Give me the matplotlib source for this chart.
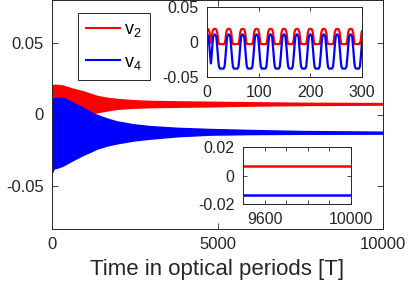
import numpy as np
import matplotlib.pyplot as plt

plt.rcParams['font.family'] = ['Liberation Sans', 'DejaVu Sans']
plt.rcParams['axes.unicode_minus'] = False
plt.rcParams['mathtext.default'] = 'regular'

# main plot: envelope of the fast oscillation
t_env = [0, 50, 150, 330, 600, 940, 1160, 1360, 1660, 1960, 2450, 2960,
         3800, 4770, 6000, 7500, 10000]
v2_hi = [0.020, 0.0205, 0.0205, 0.020, 0.018, 0.016, 0.0143, 0.0128, 0.0115,
         0.0107, 0.0098, 0.0093, 0.0090, 0.0087, 0.0084, 0.0080, 0.0078]
v2_lo = [-0.004, -0.004, -0.003, -0.002, -0.001, 0.0, 0.0007, 0.0018, 0.0030,
         0.0042, 0.0049, 0.0053, 0.0056, 0.0059, 0.0064, 0.0068, 0.0071]
v4_hi = [0.010, 0.011, 0.0115, 0.0116, 0.0085, 0.0045, 0.0015, -0.0005, -0.003,
         -0.005, -0.007, -0.0083, -0.0095, -0.0103, -0.011, -0.0117, -0.0122]
v4_lo = [-0.040, -0.0375, -0.037, -0.0355, -0.032, -0.028, -0.0258, -0.0236,
         -0.0215, -0.020, -0.018, -0.0167, -0.015, -0.0139, -0.0135, -0.0133,
         -0.0132]

# inset 1: first 300 periods, peak times and one-cycle shape
peaks = [0, 15, 42, 69, 96, 123, 149, 174, 200, 226, 252, 278, 304]
shape_d = [-13, -10, -8, -6.5, -5, -3, 0, 3, 5, 6.5, 8, 10, 13]
shape_v2 = [-0.003, -0.003, -0.003, 0.002, 0.013, 0.018, 0.019, 0.018, 0.013,
            0.002, -0.003, -0.003, -0.003]
shape_v4 = [-0.038, -0.038, -0.035, -0.024, -0.008, 0.008, 0.011, 0.008,
            -0.008, -0.024, -0.035, -0.038, -0.038]

# inset 2: last periods
t_end = [9500, 10000]
v2_end = [0.0070, 0.0070]
v4_end = [-0.0140, -0.0140]

red = (1, 0, 0)
blue = (0, 0, 1)
axcol = '#262626'


def style(ax, size=11.5, tl=3):
    ax.tick_params(direction='in', top=True, right=True, length=tl, width=0.6,
                   colors=axcol, labelsize=size, pad=6)
    for s in ax.spines.values():
        s.set_color(axcol)
        s.set_linewidth(0.7)


fig = plt.figure(figsize=(4.11, 2.83), dpi=100)
ax = fig.add_axes([52 / 411, 1 - 229 / 283, 331 / 411, 229 / 283])
ax.fill_between(t_env, v2_lo, v2_hi, color=red, lw=1.4, edgecolor=red)
ax.fill_between(t_env, v4_lo, v4_hi, color=blue, lw=1.4, edgecolor=blue)
ax.plot([], [], color=red, lw=1.5, label='v$_2$')
ax.plot([], [], color=blue, lw=1.5, label='v$_4$')
ax.set_xlim(0, 10000)
ax.set_ylim(-0.08, 0.08)
ax.set_xticks([0, 5000, 10000])
ax.set_yticks([-0.05, 0, 0.05])
ax.set_yticklabels(['-0.05', '0', '0.05'])
ax.set_xlabel('Time in optical periods [T]', fontsize=16, color=axcol,
              labelpad=5)
style(ax, 12, 4)
leg = ax.legend(loc='upper left', bbox_to_anchor=(78 / 411, 1 - 13 / 283),
                bbox_transform=fig.transFigure, fontsize=13, fancybox=False,
                framealpha=1, edgecolor=axcol, handlelength=1.9,
                handletextpad=0.2, borderpad=0.45, labelspacing=0.8,
                borderaxespad=0)
leg.get_frame().set_linewidth(0.7)

# inset 1
t1 = np.linspace(0, 300, 1501)
near = np.array(peaks)[np.abs(t1[:, None] - np.array(peaks)[None, :]).argmin(1)]
d = t1 - near
ax1 = fig.add_axes([207 / 411, 1 - 77 / 283, 155 / 411, 70 / 283])
ax1.plot(t1, np.interp(d, shape_d, shape_v2), color=red, lw=1.6)
ax1.plot(t1, np.interp(d, shape_d, shape_v4), color=blue, lw=1.6)
ax1.set_xlim(0, 300)
ax1.set_ylim(-0.05, 0.05)
ax1.set_xticks([0, 100, 200, 300])
ax1.set_yticks([-0.05, 0, 0.05])
ax1.set_yticklabels(['-0.05', '0', '0.05'])
style(ax1)

# inset 2
ax2 = fig.add_axes([243 / 411, 1 - 204 / 283, 108 / 411, 57 / 283])
ax2.plot(t_end, v2_end, color=red, lw=1.8)
ax2.plot(t_end, v4_end, color=blue, lw=1.8)
ax2.set_xlim(9500, 10000)
ax2.set_ylim(-0.02, 0.02)
ax2.set_xticks([9600, 9700, 9800, 9900, 10000])
ax2.set_xticklabels(['9600', '', '', '', '10000'])
ax2.set_yticks([-0.02, 0, 0.02])
ax2.set_yticklabels(['-0.02', '0', '0.02'])
style(ax2)

fig.savefig('out.png', dpi=100)
